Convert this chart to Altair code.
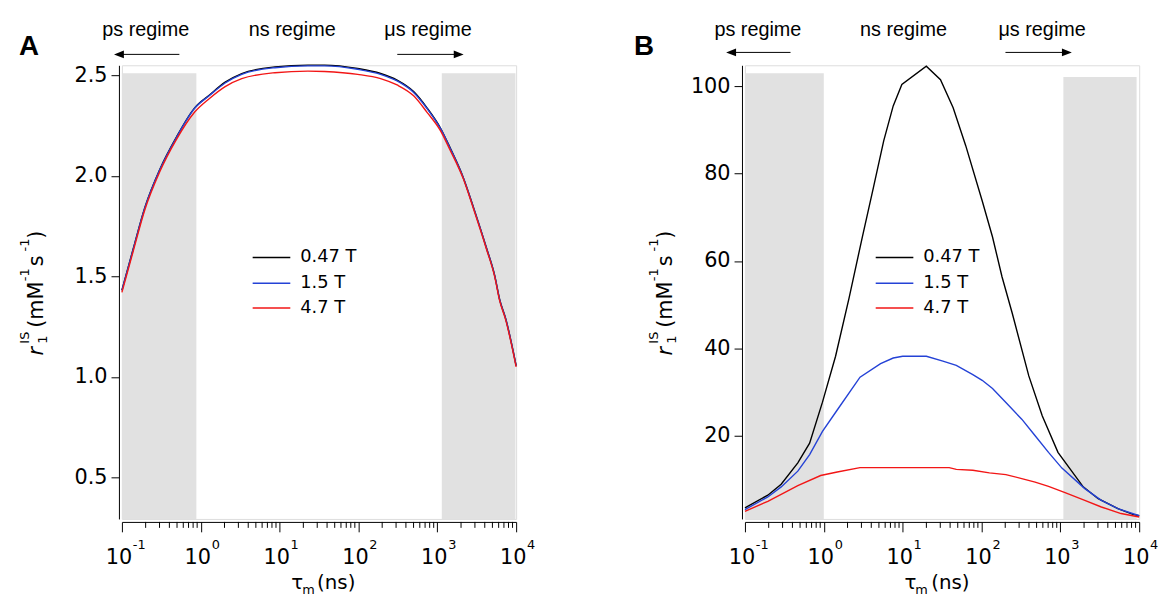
import altair as alt
import pandas as pd

# ---------------- data ----------------
series_labels = ["0.47 T", "1.5 T", "4.7 T"]
series_colors = ["#000000", "#2442d6", "#f21616"]

# Panel A (tau_m in ns, r1 in mM^-1 s^-1)
tau_a = [0.1, 0.138, 0.195, 0.302, 0.49, 0.832, 1.29, 2.04, 3.31, 8.71, 22.9, 37.2,
         97.7, 191, 309, 501, 741, 1096, 1445, 2138, 2884, 4169, 5370, 6166, 7413, 10000]
r1_a_047 = [1.431, 1.632, 1.842, 2.032, 2.192, 2.337, 2.402, 2.466, 2.509, 2.542, 2.551, 2.551,
            2.534, 2.509, 2.476, 2.419, 2.338, 2.238, 2.142, 1.991, 1.842, 1.646, 1.501, 1.386, 1.286, 1.056]
r1_a_15 = [1.43, 1.63, 1.84, 2.03, 2.19, 2.335, 2.40, 2.462, 2.505, 2.538, 2.547, 2.547,
           2.530, 2.505, 2.472, 2.415, 2.335, 2.236, 2.14, 1.99, 1.84, 1.645, 1.50, 1.385, 1.285, 1.055]
r1_a_47 = [1.42, 1.62, 1.83, 2.02, 2.18, 2.316, 2.385, 2.444, 2.484, 2.513, 2.521, 2.519,
           2.505, 2.484, 2.452, 2.398, 2.316, 2.225, 2.13, 1.985, 1.835, 1.64, 1.495, 1.38, 1.28, 1.05]

# Panel B
tau_b_047 = [0.1, 0.195, 0.288, 0.468, 0.661, 0.962, 1.41, 2.09, 3.09, 4.27, 5.75, 7.59, 9.77,
             19.95, 30.2, 43.7, 63.1, 102, 138, 182, 245, 398, 589, 933, 1950, 3020, 5370, 8320, 10000]
r1_b_047 = [3.5, 6.4, 8.9, 13.8, 18.3, 27.7, 38.2, 51.5, 65.6, 76.9, 87.5, 95.5, 100.4,
            104.6, 101.5, 95.1, 86.4, 73.8, 65.5, 56.4, 48.1, 33.7, 24.6, 16.2, 8.3, 5.6, 3.3, 2.0, 1.7]
tau_b_15 = [0.1, 0.195, 0.288, 0.468, 0.661, 0.962, 1.48, 2.88, 5.25, 7.59, 10, 20, 32.4, 47.9,
            77.6, 102, 138, 204, 324, 479, 708, 1047, 2042, 3311, 5370, 10000]
r1_b_15 = [3.1, 6.0, 8.3, 11.9, 15.7, 21.0, 25.9, 33.4, 36.5, 37.8, 38.2, 38.2, 37.1, 36.1,
           34.0, 32.7, 30.8, 27.6, 23.8, 20.0, 16.2, 12.6, 7.9, 5.2, 3.3, 1.7]
tau_b_47 = [0.1, 0.195, 0.468, 0.912, 1.48, 2.88, 10, 38.9, 47.9, 77.6, 126, 204, 324, 479,
            708, 1148, 2042, 3311, 5888, 10000]
r1_b_47 = [2.7, 5.0, 8.6, 10.9, 11.7, 12.7, 12.7, 12.7, 12.3, 12.1, 11.5, 11.1, 10.2, 9.4,
           8.4, 7.0, 5.2, 3.7, 2.2, 1.4]

x_domain = [0.1, 10000]
major_ticks = [0.1, 1, 10, 100, 1000, 10000]
major_exponents = ["-1", "0", "1", "2", "3", "4"]
minor_ticks = [0.2, 0.3, 0.4, 0.5, 0.6, 0.7, 0.8, 0.9,
               2, 3, 4, 5, 6, 7, 8, 9,
               20, 30, 40, 50, 60, 70, 80, 90,
               200, 300, 400, 500, 600, 700, 800, 900,
               2000, 3000, 4000, 5000, 6000, 7000, 8000, 9000]

y_ticks_a = [0.5, 1.0, 1.5, 2.0, 2.5]
y_ticks_b = [20, 40, 60, 80, 100]
y_domain_a = [0.293, 2.55]
y_domain_b = [0.96, 104.8]

bands_a = {"x0": [0.1, 1140], "x1": [0.88, 9800], "y0": [0.293, 0.293], "y1": [2.51, 2.51]}
bands_b = {"x0": [0.1, 1092], "x1": [1.0, 9270], "y0": [0.96, 0.96], "y1": [103.0, 102.1]}

regime_labels = ["ps regime", "ns regime", "\u03bcs regime"]

# ---------------- styling ----------------
W, H = 398, 458
FONT = "DejaVu Sans"
SANS = "Liberation Sans"
BAND = "#e1e1e1"
one = pd.DataFrame({"k": [0]})


def panel(letter, curves, bands, ydom, yticks, yfmt, interp, lay):
    xscale = alt.Scale(type="log", domain=x_domain, nice=False)
    xaxis = alt.Axis(values=major_ticks, labels=False, title=None, tickSize=10, offset=3,
                     grid=False, domainColor="black", tickColor="black", domainWidth=1, tickWidth=1)
    yscale = alt.Scale(domain=ydom, nice=False, zero=False)
    yaxis = alt.Axis(values=yticks, format=yfmt, title=None, tickSize=8, offset=3, grid=False,
                     labelPadding=4, labelFont=FONT, labelFontSize=21, labelColor="black",
                     domainColor="black", tickColor="black", domainWidth=1, tickWidth=1)

    def X(f):
        return alt.X(f"{f}:Q", scale=xscale, axis=xaxis)

    def Y(f):
        return alt.Y(f"{f}:Q", scale=yscale, axis=yaxis)

    rows = []
    for lab, (t, v) in zip(series_labels, curves):
        for a, b in zip(t, v):
            rows.append({"tau": a, "r1": b, "series": lab})
    df = pd.DataFrame(rows)

    layers = []
    layers.append(alt.Chart(pd.DataFrame(bands)).mark_rect(color=BAND).encode(
        x=X("x0"), x2=alt.X2("x1"), y=Y("y0"), y2=alt.Y2("y1")))
    layers.append(alt.Chart(df).mark_line(strokeWidth=1.4, interpolate=interp).encode(
        x=X("tau"), y=Y("r1"),
        color=alt.Color("series:N", scale=alt.Scale(domain=series_labels, range=series_colors),
                        legend=None)))
    # minor ticks on the x axis
    layers.append(alt.Chart(pd.DataFrame({"tau": minor_ticks})).mark_rule(
        color="black", strokeWidth=1).encode(x=X("tau"), y=alt.value(H + 3), y2=alt.value(H + 9)))
    # x tick labels 10^n
    tick_df = pd.DataFrame({"tau": major_ticks, "exp": major_exponents})
    layers.append(alt.Chart(tick_df).mark_text(
        align="center", baseline="alphabetic", fontSize=21, font=FONT, color="black", dx=-3).encode(
        x=X("tau"), y=alt.value(H + 45), text=alt.value("10")))
    layers.append(alt.Chart(tick_df).mark_text(
        align="left", baseline="alphabetic", fontSize=13, font=FONT, color="black", dx=11).encode(
        x=X("tau"), y=alt.value(H + 30), text="exp:N"))

    def txt(s, x, y, size, align="left", baseline="alphabetic", angle=0, style="normal",
            weight="normal", font=FONT):
        kw = dict(align=align, baseline=baseline, fontSize=size, font=font, color="black",
                  fontStyle=style, fontWeight=weight)
        if angle:
            kw["angle"] = angle
        return alt.Chart(one).mark_text(**kw).encode(
            x=alt.value(x), y=alt.value(y), text=alt.value(s))

    # x axis title: tau_m (ns)
    tx = lay["xtitle"]
    layers.append(txt("\u03c4", tx[0], H + 71, 20))
    layers.append(txt("m", tx[1], H + 76, 13))
    layers.append(txt("(ns)", tx[2], H + 71, 20))

    # y axis title: r1^IS (mM^-1 s^-1), rotated
    bx = lay["ytitle"]
    pieces = [("r", 293, bx, 21, "italic"), ("1", 281, bx + 4, 13, "normal"),
              ("IS", 281, bx - 14, 13, "normal"), ("(mM", 265, bx, 21, "normal"),
              ("-1", 218, bx - 14, 13, "normal"), ("s", 203, bx, 21, "normal"),
              ("-1", 188, bx - 14, 13, "normal"), (")", 175, bx, 21, "normal")]
    for s, yy, xx, sz, st in pieces:
        layers.append(txt(s, xx, yy, sz, angle=270, style=st))

    # legend
    for yy, lab, col in zip([194, 220, 245], series_labels, series_colors):
        layers.append(alt.Chart(one).mark_rule(color=col, strokeWidth=1.5).encode(
            x=alt.value(132), x2=alt.value(170), y=alt.value(yy)))
        layers.append(txt(lab, 180, yy, 18, baseline="middle"))

    # regime annotations
    for cx, lab in zip(lay["regimes"], regime_labels):
        layers.append(txt(lab, cx, -30, 20, align="center", font=SANS))
    ay = lay["arrow_y"]
    l0, l1 = lay["left_arrow"]
    r0, r1 = lay["right_arrow"]
    layers.append(alt.Chart(one).mark_rule(color="black", strokeWidth=1).encode(
        x=alt.value(l0 + 4), x2=alt.value(l1), y=alt.value(ay)))
    layers.append(alt.Chart(one).mark_rule(color="black", strokeWidth=1).encode(
        x=alt.value(r0), x2=alt.value(r1 - 4), y=alt.value(ay)))
    layers.append(alt.Chart(one).mark_point(
        shape="M-1,0L1,-0.8L1,0.8Z", size=100, filled=True, color="black", opacity=1).encode(
        x=alt.value(l0 + 5), y=alt.value(ay)))
    layers.append(alt.Chart(one).mark_point(
        shape="M1,0L-1,-0.8L-1,0.8Z", size=100, filled=True, color="black", opacity=1).encode(
        x=alt.value(r1 - 5), y=alt.value(ay)))
    # panel letter
    layers.append(txt(letter, lay["letter_x"], -10, 28, weight="bold", font=SANS))

    return alt.layer(*layers).properties(width=W, height=H)


panel_a = panel("A", [(tau_a, r1_a_047), (tau_a, r1_a_15), (tau_a, r1_a_47)], bands_a,
                y_domain_a, y_ticks_a, ".1f", "monotone",
                {"xtitle": [171, 182, 197], "ytitle": -80, "regimes": [24, 172, 309],
                 "arrow_y": -11, "left_arrow": [-8, 58], "right_arrow": [278, 345],
                 "letter_x": -104})
panel_b = panel("B", [(tau_b_047, r1_b_047), (tau_b_15, r1_b_15), (tau_b_47, r1_b_47)], bands_b,
                y_domain_b, y_ticks_b, "d", "linear",
                {"xtitle": [161, 172, 188], "ytitle": -74, "regimes": [13, 160, 300],
                 "arrow_y": -13, "left_arrow": [-19, 46], "right_arrow": [263, 330],
                 "letter_x": -112})

chart = alt.hconcat(panel_a, panel_b, spacing=98).properties(
    padding={"left": 10, "top": 8, "right": 0, "bottom": 0}
).configure_view(stroke=None).configure(background="white")

chart.save("out.html", embed_options={"renderer": "svg", "actions": False})
